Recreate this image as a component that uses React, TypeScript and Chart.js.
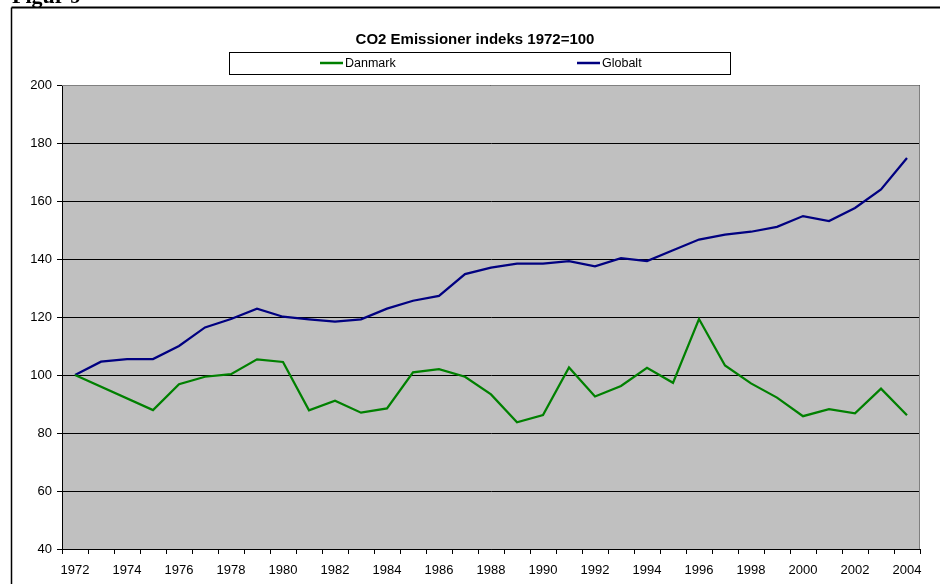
import React, { useEffect, useRef } from "react";
import { Chart, registerables } from "chart.js";

Chart.register(...registerables);

const years: string[] = [
  "1972", "1973", "1974", "1975", "1976", "1977", "1978", "1979", "1980", "1981",
  "1982", "1983", "1984", "1985", "1986", "1987", "1988", "1989", "1990", "1991",
  "1992", "1993", "1994", "1995", "1996", "1997", "1998", "1999", "2000", "2001",
  "2002", "2003", "2004",
];

const danmark: (number | null)[] = [
  100, null, null, 87.9, 96.8, 99.4, 100.3, 105.4, 104.5, 87.8,
  91.1, 87.0, 88.5, 100.9, 102.0, 99.4, 93.3, 83.7, 86.2, 102.6,
  92.6, 96.2, 102.5, 97.3, 119.3, 103.3, 97.1, 92.2, 85.8, 88.2,
  86.8, 95.3, 86.1,
];

const globalt: number[] = [
  100, 104.6, 105.5, 105.5, 110.0, 116.4, 119.3, 122.9, 120.1, 119.2,
  118.4, 119.2, 122.9, 125.6, 127.3, 134.8, 137.0, 138.4, 138.4, 139.3,
  137.5, 140.3, 139.3, 143.0, 146.7, 148.4, 149.4, 151.1, 154.8, 153.1,
  157.6, 164.0, 174.8,
];

const yTicks: number[] = [40, 60, 80, 100, 120, 140, 160, 180, 200];

const titleText = "CO2 Emissioner indeks 1972=100";
const figureLabel = "Figur 9";
const seriesNames = ["Danmark", "Globalt"];
const seriesColors = ["#008000", "#000080"];

const SANS = "'Liberation Sans', Arial, sans-serif";

const decorPlugin = {
  id: "decor",
  beforeDraw(chart: any) {
    const ctx = chart.ctx as CanvasRenderingContext2D;
    const { left, top, right, bottom } = chart.chartArea;
    ctx.save();
    ctx.fillStyle = "#ffffff";
    ctx.fillRect(0, 0, chart.width, chart.height);

    // figure caption (cut off at top)
    ctx.fillStyle = "#000";
    ctx.font = "bold 22px 'Liberation Serif', 'Times New Roman', serif";
    ctx.textBaseline = "alphabetic";
    ctx.textAlign = "left";
    ctx.fillText(figureLabel, 12, 3);

    // outer frame
    ctx.strokeStyle = "#000";
    ctx.lineWidth = 2;
    ctx.beginPath();
    ctx.moveTo(940, 7.5);
    ctx.lineTo(11.5, 7.5);
    ctx.stroke();
    ctx.lineWidth = 1.5;
    ctx.beginPath();
    ctx.moveTo(11.5, 7.5);
    ctx.lineTo(11.5, chart.height + 5);
    ctx.stroke();

    // plot background
    ctx.fillStyle = "#c0c0c0";
    ctx.fillRect(left, top, right - left, bottom - top);

    // title
    ctx.fillStyle = "#000";
    ctx.font = `bold 15px ${SANS}`;
    ctx.textAlign = "center";
    ctx.textBaseline = "middle";
    ctx.fillText(titleText, 475, 40);

    // legend box
    ctx.fillStyle = "#fff";
    ctx.fillRect(229, 52, 502, 23);
    ctx.strokeStyle = "#000";
    ctx.lineWidth = 1;
    ctx.strokeRect(229.5, 52.5, 501, 22);

    const entries = [
      { x: 320, name: seriesNames[0], color: seriesColors[0] },
      { x: 577, name: seriesNames[1], color: seriesColors[1] },
    ];
    ctx.font = `12.5px ${SANS}`;
    ctx.textAlign = "left";
    ctx.textBaseline = "middle";
    for (const e of entries) {
      ctx.strokeStyle = e.color;
      ctx.lineWidth = 2.5;
      ctx.beginPath();
      ctx.moveTo(e.x, 63);
      ctx.lineTo(e.x + 23, 63);
      ctx.stroke();
      ctx.fillStyle = "#000";
      ctx.fillText(e.name, e.x + 25, 64);
    }
    ctx.restore();
  },
  beforeDatasetsDraw(chart: any) {
    const ctx = chart.ctx as CanvasRenderingContext2D;
    const { left, top, right, bottom } = chart.chartArea;
    ctx.save();
    ctx.strokeStyle = "#808080";
    ctx.lineWidth = 1;
    ctx.beginPath();
    ctx.moveTo(left, top + 0.5);
    ctx.lineTo(right - 0.5, top + 0.5);
    ctx.lineTo(right - 0.5, bottom);
    ctx.stroke();
    ctx.restore();
  },
};

export default function App() {
  const ref = useRef<HTMLCanvasElement | null>(null);

  useEffect(() => {
    if (!ref.current) return;
    const chart = new Chart(ref.current, {
      type: "line",
      data: {
        labels: years,
        datasets: [
          {
            label: seriesNames[0],
            data: danmark,
            borderColor: seriesColors[0],
            backgroundColor: seriesColors[0],
            borderWidth: 2.25,
            pointRadius: 0,
            tension: 0,
            spanGaps: true,
          },
          {
            label: seriesNames[1],
            data: globalt,
            borderColor: seriesColors[1],
            backgroundColor: seriesColors[1],
            borderWidth: 2.25,
            pointRadius: 0,
            tension: 0,
          },
        ],
      },
      options: {
        responsive: false,
        animation: false,
        events: [],
        layout: { padding: { left: 22, top: 85, right: 25, bottom: 5 } },
        plugins: {
          legend: { display: false },
          title: { display: false },
          tooltip: { enabled: false },
        },
        scales: {
          x: {
            type: "category",
            offset: true,
            afterFit: (s: any) => {
              s.height = 30;
            },
            grid: {
              offset: true,
              drawOnChartArea: false,
              drawTicks: true,
              tickLength: 5,
              color: "#000",
            },
            border: { color: "#000", width: 1 },
            ticks: {
              autoSkip: false,
              maxRotation: 0,
              minRotation: 0,
              padding: 9,
              color: "#000",
              font: { family: SANS, size: 13 },
              callback: (_v: any, i: number) => (i % 2 === 0 ? years[i] : ""),
            },
          },
          y: {
            min: yTicks[0],
            max: yTicks[yTicks.length - 1],
            afterFit: (s: any) => {
              s.width = 40;
            },
            afterBuildTicks: (s: any) => {
              s.ticks = yTicks.map((v) => ({ value: v }));
            },
            grid: {
              color: "#000",
              lineWidth: 1,
              drawTicks: true,
              tickLength: 5,
            },
            border: { color: "#000", width: 1 },
            ticks: {
              padding: 5,
              color: "#000",
              font: { family: SANS, size: 13 },
            },
          },
        },
      },
      plugins: [decorPlugin],
    });
    return () => chart.destroy();
  }, []);

  return (
    <div style={{ position: "fixed", left: 0, top: 0, width: 945, height: 584 }}>
      <canvas ref={ref} width={945} height={584} style={{ display: "block", width: 945, height: 584 }} />
    </div>
  );
}
